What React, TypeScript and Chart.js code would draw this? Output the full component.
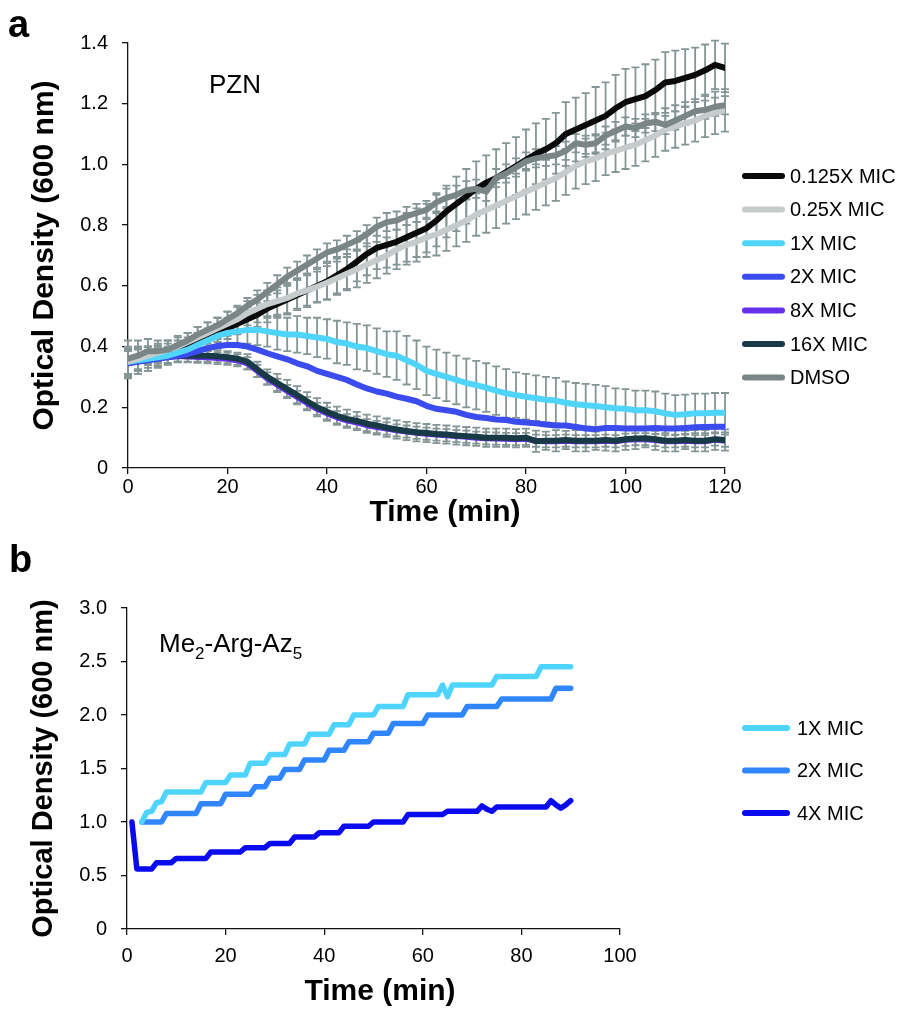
import React, { useEffect, useRef } from "react";
import { Chart, registerables } from "chart.js";

Chart.register(...registerables);

const FONT = "'Liberation Sans', Arial, Helvetica, sans-serif";

// ---------------- Panel a (PZN) ----------------
const TIME_A = [0, 2, 4, 6, 8, 10, 12, 14, 16, 18, 20, 22, 24, 26, 28, 30, 32, 34, 36, 38, 40, 42, 44, 46, 48, 50, 52, 54, 56, 58, 60, 62, 64, 66, 68, 70, 72, 74, 76, 78, 80, 82, 84, 86, 88, 90, 92, 94, 96, 98, 100, 102, 104, 106, 108, 110, 112, 114, 116, 118, 120];

const OD_0125X = [0.35, 0.36, 0.37, 0.375, 0.385, 0.395, 0.405, 0.415, 0.43, 0.445, 0.46, 0.475, 0.49, 0.505, 0.525, 0.54, 0.555, 0.57, 0.585, 0.6, 0.615, 0.635, 0.655, 0.68, 0.705, 0.725, 0.735, 0.745, 0.76, 0.775, 0.79, 0.815, 0.845, 0.87, 0.895, 0.92, 0.94, 0.955, 0.975, 0.995, 1.015, 1.035, 1.05, 1.07, 1.1, 1.115, 1.13, 1.145, 1.16, 1.185, 1.205, 1.215, 1.225, 1.245, 1.27, 1.275, 1.285, 1.295, 1.31, 1.328, 1.318];
const ERR_0125X = [0.04, 0.035, 0.03, 0.03, 0.025, 0.025, 0.025, 0.03, 0.03, 0.03, 0.035, 0.035, 0.04, 0.04, 0.045, 0.045, 0.05, 0.05, 0.055, 0.055, 0.06, 0.06, 0.065, 0.065, 0.07, 0.07, 0.075, 0.075, 0.08, 0.08, 0.08, 0.085, 0.085, 0.09, 0.09, 0.09, 0.09, 0.095, 0.095, 0.095, 0.1, 0.1, 0.1, 0.1, 0.105, 0.105, 0.105, 0.11, 0.11, 0.11, 0.11, 0.105, 0.105, 0.1, 0.1, 0.1, 0.095, 0.09, 0.085, 0.08, 0.08];

const OD_025X = [0.35, 0.36, 0.37, 0.38, 0.39, 0.4, 0.415, 0.43, 0.445, 0.46, 0.475, 0.49, 0.51, 0.525, 0.54, 0.55, 0.56, 0.575, 0.585, 0.597, 0.61, 0.625, 0.64, 0.655, 0.67, 0.685, 0.7, 0.72, 0.735, 0.745, 0.76, 0.77, 0.785, 0.8, 0.815, 0.835, 0.85, 0.865, 0.88, 0.895, 0.91, 0.925, 0.94, 0.955, 0.975, 0.995, 1.01, 1.02, 1.035, 1.045, 1.055, 1.065, 1.08, 1.095, 1.115, 1.125, 1.135, 1.145, 1.16, 1.17, 1.178];
const ERR_025X = [0.04, 0.035, 0.03, 0.03, 0.03, 0.03, 0.03, 0.035, 0.035, 0.035, 0.04, 0.04, 0.04, 0.045, 0.045, 0.045, 0.05, 0.05, 0.05, 0.05, 0.055, 0.055, 0.055, 0.06, 0.06, 0.06, 0.06, 0.065, 0.065, 0.065, 0.065, 0.07, 0.07, 0.07, 0.07, 0.07, 0.075, 0.075, 0.075, 0.075, 0.075, 0.075, 0.075, 0.075, 0.075, 0.075, 0.075, 0.075, 0.07, 0.07, 0.07, 0.07, 0.07, 0.07, 0.07, 0.07, 0.07, 0.07, 0.07, 0.07, 0.07];

const OD_1X = [0.35, 0.355, 0.36, 0.365, 0.37, 0.38, 0.39, 0.405, 0.42, 0.435, 0.445, 0.45, 0.455, 0.455, 0.45, 0.445, 0.44, 0.44, 0.435, 0.43, 0.425, 0.415, 0.41, 0.4, 0.395, 0.385, 0.375, 0.37, 0.355, 0.34, 0.32, 0.31, 0.3, 0.29, 0.28, 0.273, 0.265, 0.255, 0.246, 0.24, 0.235, 0.23, 0.225, 0.222, 0.215, 0.21, 0.207, 0.204, 0.2, 0.197, 0.195, 0.19, 0.19, 0.187, 0.18, 0.175, 0.177, 0.18, 0.18, 0.182, 0.182];
const ERR_1X = [0.05, 0.045, 0.04, 0.035, 0.03, 0.03, 0.03, 0.035, 0.035, 0.04, 0.04, 0.045, 0.045, 0.05, 0.05, 0.055, 0.055, 0.06, 0.06, 0.065, 0.065, 0.07, 0.07, 0.075, 0.075, 0.075, 0.075, 0.08, 0.08, 0.08, 0.08, 0.08, 0.08, 0.08, 0.08, 0.08, 0.08, 0.08, 0.08, 0.075, 0.075, 0.075, 0.075, 0.075, 0.07, 0.07, 0.07, 0.07, 0.07, 0.065, 0.065, 0.065, 0.065, 0.065, 0.065, 0.065, 0.065, 0.065, 0.065, 0.065, 0.065];

const OD_2X = [0.345, 0.35, 0.355, 0.36, 0.365, 0.37, 0.375, 0.385, 0.395, 0.402, 0.405, 0.405, 0.4, 0.39, 0.378, 0.368, 0.358, 0.345, 0.335, 0.32, 0.31, 0.3, 0.29, 0.275, 0.262, 0.252, 0.245, 0.235, 0.228, 0.22, 0.205, 0.195, 0.19, 0.185, 0.175, 0.168, 0.165, 0.16, 0.158, 0.152, 0.15, 0.147, 0.143, 0.14, 0.14, 0.135, 0.13, 0.128, 0.132, 0.132, 0.13, 0.13, 0.13, 0.132, 0.13, 0.13, 0.132, 0.134, 0.135, 0.136, 0.136];

const OD_8X = [0.345, 0.355, 0.36, 0.363, 0.366, 0.368, 0.368, 0.366, 0.365, 0.362, 0.36, 0.355, 0.345, 0.32, 0.295, 0.274, 0.254, 0.234, 0.214, 0.195, 0.18, 0.167, 0.157, 0.15, 0.141, 0.135, 0.13, 0.124, 0.12, 0.116, 0.113, 0.11, 0.108, 0.105, 0.103, 0.1, 0.098, 0.097, 0.096, 0.095, 0.096, 0.09, 0.088, 0.088, 0.09, 0.088, 0.088, 0.088, 0.09, 0.088, 0.093, 0.095, 0.095, 0.092, 0.088, 0.088, 0.09, 0.088, 0.088, 0.094, 0.09];
const ERR_8X = [0.04, 0.035, 0.03, 0.025, 0.02, 0.02, 0.02, 0.02, 0.02, 0.02, 0.02, 0.02, 0.02, 0.02, 0.02, 0.02, 0.02, 0.02, 0.02, 0.02, 0.02, 0.02, 0.02, 0.02, 0.02, 0.02, 0.02, 0.02, 0.02, 0.02, 0.02, 0.02, 0.02, 0.02, 0.02, 0.02, 0.02, 0.02, 0.02, 0.02, 0.02, 0.02, 0.02, 0.02, 0.02, 0.02, 0.02, 0.02, 0.02, 0.02, 0.02, 0.02, 0.02, 0.02, 0.02, 0.02, 0.02, 0.02, 0.02, 0.02, 0.02];

const OD_16X = [0.345, 0.355, 0.36, 0.365, 0.368, 0.37, 0.37, 0.37, 0.37, 0.368, 0.365, 0.36, 0.35, 0.325, 0.3, 0.28, 0.26, 0.24, 0.22, 0.2, 0.185, 0.172, 0.162, 0.155, 0.146, 0.14, 0.133, 0.127, 0.122, 0.118, 0.115, 0.112, 0.11, 0.107, 0.105, 0.103, 0.1, 0.1, 0.1, 0.098, 0.1, 0.088, 0.09, 0.09, 0.092, 0.09, 0.09, 0.09, 0.092, 0.09, 0.095, 0.097, 0.098, 0.095, 0.09, 0.09, 0.092, 0.09, 0.09, 0.095, 0.092];
const ERR_16X = [0.05, 0.045, 0.04, 0.03, 0.025, 0.02, 0.02, 0.02, 0.02, 0.02, 0.02, 0.02, 0.025, 0.025, 0.025, 0.03, 0.03, 0.03, 0.03, 0.03, 0.03, 0.03, 0.03, 0.03, 0.03, 0.03, 0.03, 0.03, 0.03, 0.03, 0.03, 0.03, 0.03, 0.03, 0.03, 0.03, 0.03, 0.03, 0.03, 0.03, 0.03, 0.035, 0.03, 0.035, 0.03, 0.035, 0.035, 0.03, 0.035, 0.035, 0.035, 0.035, 0.03, 0.035, 0.035, 0.035, 0.03, 0.035, 0.035, 0.035, 0.035];

const OD_DMSO = [0.36, 0.37, 0.385, 0.385, 0.39, 0.405, 0.42, 0.44, 0.455, 0.47, 0.49, 0.51, 0.535, 0.555, 0.58, 0.605, 0.63, 0.65, 0.67, 0.69, 0.71, 0.72, 0.735, 0.75, 0.77, 0.795, 0.81, 0.815, 0.83, 0.84, 0.85, 0.875, 0.89, 0.9, 0.915, 0.92, 0.91, 0.955, 0.97, 0.99, 1.01, 1.02, 1.025, 1.03, 1.045, 1.07, 1.065, 1.07, 1.095, 1.11, 1.125, 1.12, 1.135, 1.14, 1.13, 1.145, 1.16, 1.175, 1.18, 1.19, 1.195];
const ERR_DMSO = [0.06, 0.05, 0.04, 0.035, 0.03, 0.03, 0.025, 0.025, 0.025, 0.025, 0.025, 0.025, 0.025, 0.03, 0.03, 0.03, 0.03, 0.03, 0.03, 0.03, 0.03, 0.03, 0.03, 0.03, 0.03, 0.03, 0.03, 0.03, 0.03, 0.03, 0.03, 0.03, 0.03, 0.03, 0.03, 0.03, 0.03, 0.03, 0.03, 0.03, 0.03, 0.03, 0.03, 0.03, 0.03, 0.03, 0.03, 0.03, 0.03, 0.03, 0.03, 0.03, 0.03, 0.03, 0.03, 0.03, 0.03, 0.03, 0.03, 0.03, 0.03];

const SERIES_A = [
  { label: "0.125X MIC", values: OD_0125X, errors: ERR_0125X, color: "#0a0a0a", order: 1 },
  { label: "0.25X MIC", values: OD_025X, errors: ERR_025X, color: "#c6cccc", order: 0 },
  { label: "1X MIC", values: OD_1X, errors: ERR_1X, color: "#4fd4fb", order: 0 },
  { label: "2X MIC", values: OD_2X, errors: null, color: "#3a4cee", order: 0 },
  { label: "8X MIC", values: OD_8X, errors: ERR_8X, color: "#6630ea", order: 1 },
  { label: "16X MIC", values: OD_16X, errors: ERR_16X, color: "#183a47", order: 0 },
  { label: "DMSO", values: OD_DMSO, errors: ERR_DMSO, color: "#7a8686", order: -1 },
];

// ---------------- Panel b (Me2-Arg-Az5) ----------------
const TIME_B = [1, 2, 3, 4, 5, 6, 7, 8, 9, 10, 11, 12, 13, 14, 15, 16, 17, 18, 19, 20, 21, 22, 23, 24, 25, 26, 27, 28, 29, 30, 31, 32, 33, 34, 35, 36, 37, 38, 39, 40, 41, 42, 43, 44, 45, 46, 47, 48, 49, 50, 51, 52, 53, 54, 55, 56, 57, 58, 59, 60, 61, 62, 63, 64, 65, 66, 67, 68, 69, 70, 71, 72, 73, 74, 75, 76, 77, 78, 79, 80, 81, 82, 83, 84, 85, 86, 87, 88, 89, 90];

const OD_B_1X = [null, null, 1.0, 1.09, 1.1, 1.18, 1.19, 1.28, 1.28, 1.28, 1.28, 1.28, 1.28, 1.28, 1.28, 1.37, 1.37, 1.37, 1.37, 1.37, 1.44, 1.44, 1.44, 1.44, 1.55, 1.55, 1.55, 1.55, 1.63, 1.63, 1.63, 1.63, 1.73, 1.73, 1.73, 1.73, 1.82, 1.82, 1.82, 1.82, 1.82, 1.91, 1.91, 1.91, 1.91, 2.0, 2.0, 2.0, 2.0, 2.0, 2.08, 2.08, 2.08, 2.08, 2.08, 2.08, 2.19, 2.19, 2.19, 2.19, 2.19, 2.19, 2.19, 2.28, 2.17, 2.28, 2.28, 2.28, 2.28, 2.28, 2.28, 2.28, 2.28, 2.28, 2.36, 2.36, 2.36, 2.36, 2.36, 2.36, 2.36, 2.36, 2.36, 2.45, 2.45, 2.45, 2.45, 2.45, 2.45, 2.45];

const OD_B_2X = [null, null, 1.0, 1.0, 1.0, 1.0, 1.0, 1.08, 1.08, 1.08, 1.08, 1.08, 1.08, 1.08, 1.17, 1.17, 1.17, 1.17, 1.17, 1.26, 1.26, 1.26, 1.26, 1.26, 1.26, 1.33, 1.33, 1.33, 1.41, 1.41, 1.41, 1.49, 1.49, 1.49, 1.49, 1.58, 1.58, 1.58, 1.58, 1.58, 1.67, 1.67, 1.67, 1.67, 1.75, 1.75, 1.75, 1.75, 1.75, 1.83, 1.83, 1.83, 1.83, 1.92, 1.92, 1.92, 1.92, 1.92, 1.92, 1.92, 2.0, 2.0, 2.0, 2.0, 2.0, 2.0, 2.0, 2.0, 2.08, 2.08, 2.08, 2.08, 2.08, 2.08, 2.08, 2.15, 2.15, 2.15, 2.15, 2.15, 2.15, 2.15, 2.15, 2.15, 2.15, 2.15, 2.25, 2.25, 2.25, 2.25];

const OD_B_4X = [1.0, 0.56, 0.56, 0.56, 0.56, 0.62, 0.62, 0.62, 0.62, 0.66, 0.66, 0.66, 0.66, 0.66, 0.66, 0.66, 0.72, 0.72, 0.72, 0.72, 0.72, 0.72, 0.72, 0.76, 0.76, 0.76, 0.76, 0.76, 0.8, 0.8, 0.8, 0.8, 0.8, 0.86, 0.86, 0.86, 0.86, 0.86, 0.9, 0.9, 0.9, 0.9, 0.9, 0.96, 0.96, 0.96, 0.96, 0.96, 0.96, 1.0, 1.0, 1.0, 1.0, 1.0, 1.0, 1.0, 1.07, 1.07, 1.07, 1.07, 1.07, 1.07, 1.07, 1.07, 1.1, 1.1, 1.1, 1.1, 1.1, 1.1, 1.1, 1.15, 1.12, 1.1, 1.14, 1.14, 1.14, 1.14, 1.14, 1.14, 1.14, 1.14, 1.14, 1.14, 1.14, 1.2, 1.16, 1.13, 1.16, 1.2];

const SERIES_B = [
  { label: "1X MIC", values: OD_B_1X, color: "#4fd4ff" },
  { label: "2X MIC", values: OD_B_2X, color: "#2f86ff" },
  { label: "4X MIC", values: OD_B_4X, color: "#0a0aee" },
];

const TICKS_A_Y = [0, 0.2, 0.4, 0.6, 0.8, 1.0, 1.2, 1.4];
const TICKS_B_Y = [0, 0.5, 1.0, 1.5, 2.0, 2.5, 3.0];

// ---------------- plugins ----------------
const errorBarsPlugin = {
  id: "errorBars",
  beforeDatasetsDraw(chart: any, _args: any, opts: any) {
    if (!opts || !opts.enabled) return;
    const { ctx } = chart;
    const xs = chart.scales.x;
    const ys = chart.scales.y;
    ctx.save();
    ctx.beginPath();
    ctx.rect(chart.chartArea.left - 6, chart.chartArea.top - 6, chart.chartArea.right - chart.chartArea.left + 12, chart.chartArea.bottom - chart.chartArea.top + 12);
    ctx.clip();
    ctx.strokeStyle = opts.color;
    ctx.lineWidth = opts.width;
    chart.data.datasets.forEach((ds: any) => {
      if (!ds.errors) return;
      ds.data.forEach((p: any, i: number) => {
        const e = ds.errors[i];
        if (!e || p.y == null) return;
        const x = xs.getPixelForValue(p.x);
        const y1 = ys.getPixelForValue(p.y + e);
        const y2 = ys.getPixelForValue(p.y - e);
        const c = opts.cap;
        ctx.beginPath();
        ctx.moveTo(x, y1);
        ctx.lineTo(x, y2);
        ctx.moveTo(x - c, y1);
        ctx.lineTo(x + c, y1);
        ctx.moveTo(x - c, y2);
        ctx.lineTo(x + c, y2);
        ctx.stroke();
      });
    });
    ctx.restore();
  },
};

const sideLegendPlugin = {
  id: "sideLegend",
  afterDraw(chart: any, _args: any, opts: any) {
    if (!opts || !opts.enabled) return;
    const { ctx } = chart;
    ctx.save();
    chart.data.datasets.forEach((ds: any, i: number) => {
      const y = opts.top + i * opts.gap;
      ctx.strokeStyle = ds.borderColor;
      ctx.lineWidth = opts.lineWidth;
      ctx.lineCap = "round";
      ctx.beginPath();
      ctx.moveTo(opts.x1, y);
      ctx.lineTo(opts.x2, y);
      ctx.stroke();
      ctx.fillStyle = "#000";
      ctx.font = opts.font;
      ctx.textBaseline = "middle";
      ctx.textAlign = "left";
      ctx.fillText(ds.label, opts.textX, y + 1);
    });
    ctx.restore();
  },
};

const panelTextPlugin = {
  id: "panelText",
  afterDraw(chart: any, _args: any, opts: any) {
    if (!opts || !opts.items) return;
    const { ctx } = chart;
    ctx.save();
    ctx.fillStyle = "#000";
    ctx.textAlign = "left";
    opts.items.forEach((it: any) => {
      ctx.textBaseline = it.baseline || "alphabetic";
      let total = 0;
      it.parts.forEach((p: any) => {
        ctx.font = p.font;
        total += ctx.measureText(p.text).width;
      });
      let x = it.center ? it.x - total / 2 : it.x;
      it.parts.forEach((p: any) => {
        ctx.font = p.font;
        ctx.fillText(p.text, x, it.y + (p.dy || 0));
        x += ctx.measureText(p.text).width;
      });
    });
    ctx.restore();
  },
};

Chart.register(errorBarsPlugin as any, sideLegendPlugin as any, panelTextPlugin as any);

function makeOptions(cfg: any) {
  return {
    responsive: false,
    animation: false,
    events: [],
    layout: { padding: { left: 0, top: cfg.padTop, right: cfg.padRight, bottom: 0 } },
    elements: {
      point: { radius: 0, hoverRadius: 0 },
      line: { tension: 0, borderCapStyle: "round", borderJoinStyle: "round" },
    },
    plugins: {
      legend: { display: false },
      tooltip: { enabled: false },
      title: { display: false },
      errorBars: cfg.errorBars,
      sideLegend: cfg.legend,
      panelText: { items: cfg.texts },
    },
    scales: {
      x: {
        type: "linear",
        min: cfg.xMin,
        max: cfg.xMax,
        afterFit: (s: any) => {
          s.height = cfg.xAxisHeight;
        },
        ticks: {
          stepSize: cfg.xStep,
          autoSkip: false,
          maxRotation: 0,
          color: "#000",
          padding: cfg.xTickPad,
          font: { family: FONT, size: 20 },
        },
        grid: { drawOnChartArea: false, drawTicks: true, tickLength: 6, color: "#111", lineWidth: 1.3 },
        border: { display: true, color: "#111", width: 1.3 },
        title: { display: false },
      },
      y: {
        type: "linear",
        min: cfg.yMin,
        max: cfg.yMax,
        afterFit: (s: any) => {
          s.width = cfg.yAxisWidth;
        },
        afterBuildTicks: (s: any) => {
          s.ticks = cfg.yTicks.map((v: number) => ({ value: v }));
        },
        ticks: {
          color: "#000",
          padding: 14,
          font: { family: FONT, size: 20 },
          callback: (v: any) => (Number(v) === 0 ? "0" : Number(v).toFixed(1)),
        },
        grid: { drawOnChartArea: false, drawTicks: true, tickLength: 6, color: "#111", lineWidth: 1.3 },
        border: { display: true, color: "#111", width: 1.3 },
        title: {
          display: true,
          text: "Optical Density (600 nm)",
          color: "#000",
          font: { family: FONT, size: cfg.yTitleSize, weight: "bold" },
          padding: { top: cfg.yTitlePad, bottom: 0 },
        },
      },
    },
  };
}

function ChartA() {
  const ref = useRef<HTMLCanvasElement | null>(null);
  useEffect(() => {
    if (!ref.current) return;
    const datasets = SERIES_A.map((s) => ({
      label: s.label,
      data: TIME_A.map((t, i) => ({ x: t, y: s.values[i] })),
      errors: s.errors,
      borderColor: s.color,
      backgroundColor: s.color,
      borderWidth: 6,
      pointRadius: 0,
      fill: false,
      order: s.order,
    }));
    const chart = new Chart(ref.current, {
      type: "line",
      data: { datasets } as any,
      options: makeOptions({
        padTop: 43,
        padRight: 179,
        xMin: 0,
        xMax: 120,
        xStep: 20,
        yMin: 0,
        yMax: 1.4,
        yTicks: TICKS_A_Y,
        xAxisHeight: 92,
        yAxisWidth: 128,
        xTickPad: 1,
        yTitleSize: 30,
        yTitlePad: 27,
        errorBars: { enabled: true, color: "#849595", width: 1.8, cap: 4 },
        legend: { enabled: true, x1: 745, x2: 782, textX: 790, top: 176, gap: 33.6, lineWidth: 6, font: `20px ${FONT}` },
        texts: [
          { x: 8, y: 37, parts: [{ text: "a", font: `bold 38px ${FONT}` }] },
          { x: 209, y: 93, parts: [{ text: "PZN", font: `26px ${FONT}` }] },
          { x: 445, y: 513, center: true, baseline: "middle", parts: [{ text: "Time (min)", font: `bold 30px ${FONT}` }] },
        ],
      }) as any,
    });
    return () => chart.destroy();
  }, []);
  return <canvas ref={ref} width={904} height={560} style={{ position: "absolute", left: 0, top: 0, width: 904, height: 560 }} />;
}

function ChartB() {
  const ref = useRef<HTMLCanvasElement | null>(null);
  useEffect(() => {
    if (!ref.current) return;
    const datasets = SERIES_B.map((s) => ({
      label: s.label,
      data: TIME_B.map((t, i) => ({ x: t, y: s.values[i] })),
      borderColor: s.color,
      backgroundColor: s.color,
      borderWidth: 5.5,
      pointRadius: 0,
      fill: false,
    }));
    const chart = new Chart(ref.current, {
      type: "line",
      data: { datasets } as any,
      options: makeOptions({
        padTop: 68,
        padRight: 284,
        xMin: 0,
        xMax: 100,
        xStep: 20,
        yMin: 0,
        yMax: 3.0,
        yTicks: TICKS_B_Y,
        xAxisHeight: 80,
        yAxisWidth: 127,
        xTickPad: 9,
        yTitleSize: 29,
        yTitlePad: 27,
        errorBars: { enabled: false },
        legend: { enabled: true, x1: 745, x2: 787, textX: 797, top: 188, gap: 42.5, lineWidth: 6, font: `20px ${FONT}` },
        texts: [
          { x: 9, y: 32, parts: [{ text: "b", font: `bold 38px ${FONT}` }] },
          {
            x: 159,
            y: 112,
            parts: [
              { text: "Me", font: `26px ${FONT}` },
              { text: "2", font: `17px ${FONT}`, dy: 7 },
              { text: "-Arg-Az", font: `26px ${FONT}` },
              { text: "5", font: `17px ${FONT}`, dy: 7 },
            ],
          },
          { x: 380, y: 452, center: true, baseline: "middle", parts: [{ text: "Time (min)", font: `bold 30px ${FONT}` }] },
        ],
      }) as any,
    });
    return () => chart.destroy();
  }, []);
  return <canvas ref={ref} width={904} height={469} style={{ position: "absolute", left: 0, top: 540, width: 904, height: 469 }} />;
}

export default function App() {
  return (
    <div style={{ position: "absolute", left: 0, top: 0, width: 904, height: 1009, background: "#fff", overflow: "hidden" }}>
      <ChartA />
      <ChartB />
    </div>
  );
}
